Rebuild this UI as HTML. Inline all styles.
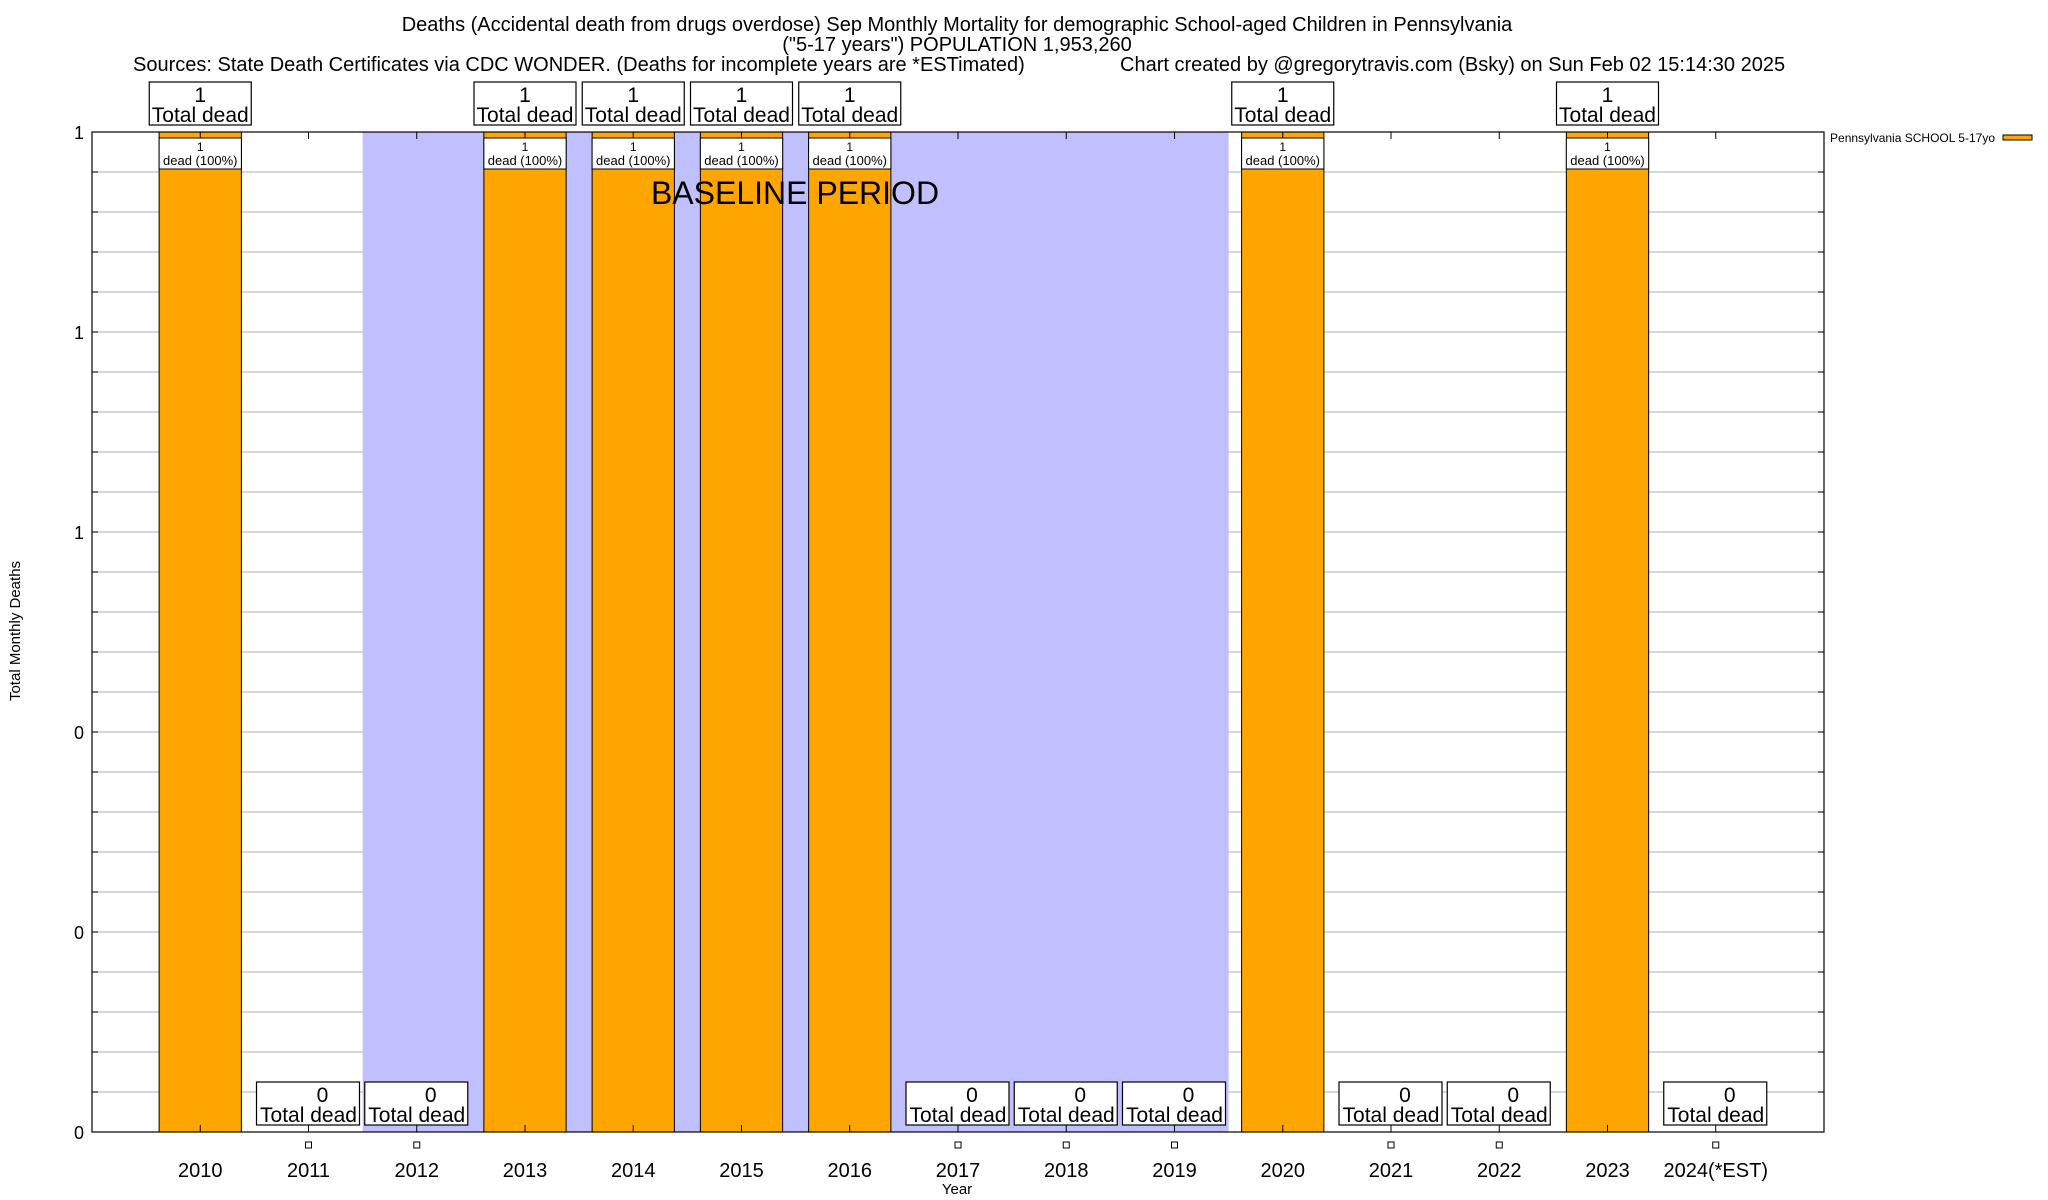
<!DOCTYPE html>
<html><head><meta charset="utf-8"><style>
html,body{margin:0;padding:0;background:#fff}
svg{display:block;font-family:"Liberation Sans",Arial,sans-serif}
</style></head><body>
<svg id="c" width="2048" height="1200" viewBox="0 0 2048 1200" xmlns="http://www.w3.org/2000/svg">
<rect width="2048" height="1200" fill="#fff"/>
<g font-size="20" text-anchor="middle" fill="#000">
<text x="957" y="31">Deaths (Accidental death from drugs overdose) Sep Monthly Mortality for demographic School-aged Children in Pennsylvania</text>
<text x="957" y="51">("5-17 years") POPULATION 1,953,260</text>
<text x="133" y="71" text-anchor="start">Sources: State Death Certificates via CDC WONDER. (Deaths for incomplete years are *ESTimated)</text>
<text x="1120" y="71" text-anchor="start">Chart created by @gregorytravis.com (Bsky) on Sun Feb 02 15:14:30 2025</text>
</g>
<g id="grid"></g>
<rect id="band" fill="#c0c0ff"/>
<g id="bars"></g>
<text x="795" y="204" font-size="32" text-anchor="middle">BASELINE PERIOD</text>
<rect x="92" y="132" width="1732" height="1000" fill="none" stroke="#000" stroke-width="1.2"/>
<g id="axes"></g>
<g id="labels"></g>
<text transform="translate(20,631) rotate(-90)" font-size="15" text-anchor="middle">Total Monthly Deaths</text>
<text x="957" y="1194" font-size="15" text-anchor="middle">Year</text>
<g>
<text x="1995" y="142" font-size="12" text-anchor="end">Pennsylvania SCHOOL 5-17yo</text>
<rect x="2003" y="135" width="29" height="5" fill="#ffa500" stroke="#000" stroke-width="1"/>
</g>
</svg>
<script>
const categories=["2010","2011","2012","2013","2014","2015","2016","2017","2018","2019","2020","2021","2022","2023","2024(*EST)"];
const deaths=[1,0,0,1,1,1,1,0,0,0,1,0,0,1,0];
const yTicks=[0,0.2,0.4,0.6,0.8,1];
const yTickLabels=["0","0","0","1","1","1"];
const baselineStart=1.5, baselineEnd=9.5;
const NS="http://www.w3.org/2000/svg";
const L=92,R=1824,T=132,B=1132;
const x=i=>L+(i+1)*(R-L)/16;
const y=v=>B-v*(B-T);
const bw=(R-L)/16*0.76;
function mk(tag,attrs,parent,txt){const e=document.createElementNS(NS,tag);for(const k in attrs)e.setAttribute(k,attrs[k]);if(txt!==undefined)e.textContent=txt;parent.appendChild(e);return e;}
const grid=document.getElementById('grid'),bars=document.getElementById('bars'),axes=document.getElementById('axes'),labels=document.getElementById('labels');
for(let k=1;k<25;k++){const g=mk('line',{x1:L,x2:R,y1:y(k*0.04),y2:y(k*0.04),stroke:'#c0c0c0','stroke-width':1.2},grid);

}
const band=document.getElementById('band');
band.setAttribute('x',x(baselineStart));band.setAttribute('width',x(baselineEnd)-x(baselineStart));band.setAttribute('y',T);band.setAttribute('height',B-T);
yTicks.forEach((t,i)=>{const tl=mk('text',{x:84,y:y(t)+7,'font-size':18,'text-anchor':'end'},axes,yTickLabels[i]);

});
for(let k=1;k<25;k++){mk('line',{x1:L,x2:L+6,y1:y(k*0.04),y2:y(k*0.04),stroke:'#000'},axes);mk('line',{x1:R,x2:R-6,y1:y(k*0.04),y2:y(k*0.04),stroke:'#000'},axes);}
categories.forEach((c,i)=>{
 const cx=x(i);
 const xl=mk('text',{x:cx,y:1177,'font-size':20,'text-anchor':'middle'},axes,c);
 
 
 mk('line',{x1:cx,x2:cx,y1:T,y2:T+7,stroke:'#000'},axes);
 mk('line',{x1:cx,x2:cx,y1:B,y2:B-7,stroke:'#000'},axes);
 const v=deaths[i];
 if(v>0){
  const b=mk('rect',{x:cx-bw/2,y:y(v),width:bw,height:B-y(v),fill:'#ffa500',stroke:'#000','stroke-width':1},bars);
  
  
  mk('rect',{x:cx-bw/2,y:y(v)+6,width:bw,height:31,fill:'#fff',stroke:'#000','stroke-width':1},labels);
  mk('text',{x:cx,y:y(v)+19,'font-size':12,'text-anchor':'middle'},labels,String(v));
  mk('text',{x:cx,y:y(v)+33,'font-size':13,'text-anchor':'middle'},labels,'dead (100%)');
  const bx=mk('rect',{x:cx-51,y:82,width:102,height:43,fill:'#fff',stroke:'#000','stroke-width':1.2},labels);
  
  
  mk('text',{x:cx,y:102,'font-size':21,'text-anchor':'middle'},labels,String(v));
  mk('text',{x:cx,y:122,'font-size':21,'text-anchor':'middle'},labels,'Total dead');
 }else{
  const bx=mk('rect',{x:cx-52,y:1082,width:103,height:43,fill:'#fff',stroke:'#000','stroke-width':1.2},labels);
  
  
  mk('text',{x:cx+14,y:1102,'font-size':21,'text-anchor':'middle'},labels,String(v));
  mk('text',{x:cx,y:1122,'font-size':21,'text-anchor':'middle'},labels,'Total dead');
  mk('rect',{x:cx-3,y:1142,width:6,height:6,fill:'#fff',stroke:'#000','stroke-width':1},labels);
 }
});
</script>
</body></html>
